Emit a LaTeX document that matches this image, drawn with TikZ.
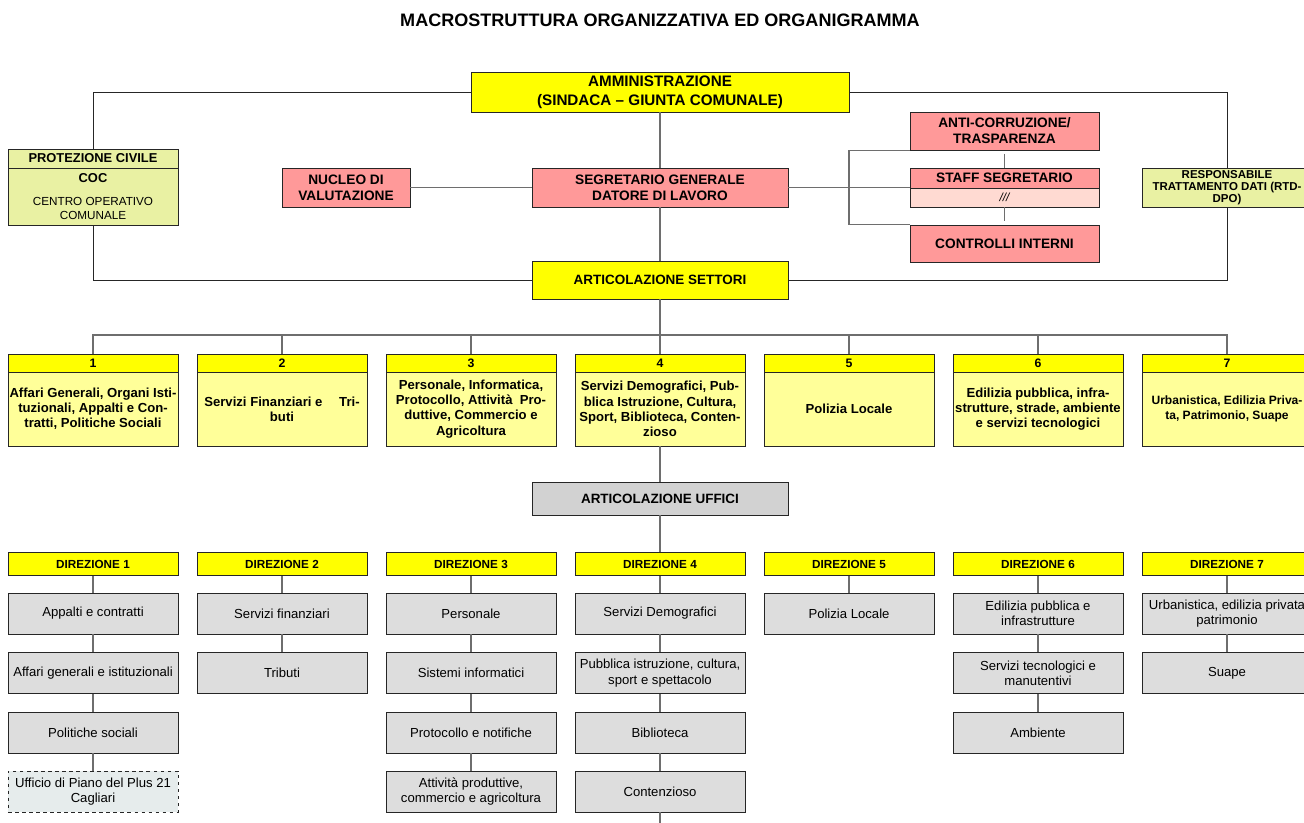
\documentclass[tikz,border=0pt]{standalone}
\usepackage{fontspec}
\setmainfont{Liberation Sans}
\usepackage{xcolor}

\definecolor{giallo}{HTML}{FFFF00}
\definecolor{giallochiaro}{HTML}{FFFF99}
\definecolor{verdino}{HTML}{E9F1A3}
\definecolor{rosa}{HTML}{FF9999}
\definecolor{rosachiaro}{HTML}{FFDAD2}
\definecolor{grigio}{HTML}{DDDDDD}
\definecolor{grigioscuro}{HTML}{D2D2D2}
\definecolor{grigioblu}{HTML}{E6ECEC}
\definecolor{linea}{HTML}{6E6E6E}

\begin{document}
\begin{tikzpicture}[
    x=0.03cm,
    y=-0.03cm,
    every node/.style={font=\fontsize{11}{13}\selectfont},
    box/.style={
        draw=black!85,
        line width=0.7pt,
        inner sep=0pt,
        align=center
    },
    titolo/.style={
        box,
        fill=giallo,
        font=\fontsize{11.5}{17}\selectfont\bfseries
    },
    rosso/.style={
        box,
        fill=rosa,
        font=\fontsize{11.7}{13.5}\selectfont\bfseries
    },
    civile/.style={
        box,
        fill=verdino,
        minimum width=5.1cm
    },
    numero/.style={
        box,
        fill=giallo,
        minimum width=5.1cm,
        minimum height=0.54cm,
        font=\fontsize{10.5}{12}\selectfont\bfseries
    },
    settore/.style={
        box,
        fill=giallochiaro,
        minimum width=5.1cm,
        minimum height=2.22cm,
        font=\fontsize{11.2}{13}\selectfont\bfseries
    },
    direzione/.style={
        box,
        fill=giallo,
        minimum width=5.1cm,
        minimum height=0.7cm,
        font=\fontsize{10}{12}\selectfont\bfseries
    },
    ufficio/.style={
        box,
        fill=grigio,
        minimum width=5.1cm,
        minimum height=1.23cm,
        font=\fontsize{11.2}{13}\selectfont
    },
    collega/.style={
        draw=linea,
        line width=1pt
    },
    cornice/.style={
        draw=black!85,
        line width=0.8pt
    }
]

\clip (0,0) rectangle (1304,823);
\fill[white] (0,0) rectangle (1304,823);

% ============================================================
% TITOLO
% ============================================================

\node[
    font=\fontsize{15.4}{18}\selectfont\bfseries
] (titolo) at (660,20)
{MACROSTRUTTURA ORGANIZZATIVA ED ORGANIGRAMMA};

% ============================================================
% VERTICE
% ============================================================

\node[
    titolo,
    minimum width=11.34cm,
    minimum height=1.2cm,
    font=\fontsize{13}{16}\selectfont\bfseries
] (amministrazione) at (660,92)
{AMMINISTRAZIONE\\(SINDACA -- GIUNTA COMUNALE)};

\node[
    rosso,
    minimum width=7.68cm,
    minimum height=1.17cm
] (segretario) at (660,187.5)
{SEGRETARIO GENERALE\\DATORE DI LAVORO};

\node[
    rosso,
    minimum width=3.84cm,
    minimum height=1.17cm
] (nucleo) at (346,187.5)
{NUCLEO DI\\VALUTAZIONE};

\node[
    titolo,
    minimum width=7.68cm,
    minimum height=1.14cm
] (settori) at (660,280)
{ARTICOLAZIONE SETTORI};

% Protezione civile
\node[
    civile,
    minimum height=0.57cm,
    font=\fontsize{11}{12}\selectfont\bfseries
] (protezione) at (93,158.5)
{PROTEZIONE CIVILE};

\node[
    civile,
    minimum height=1.71cm,
    font=\fontsize{10}{12}\selectfont
] (coc) at (93,196.5)
{\textbf{\fontsize{11}{12}\selectfont COC}\\[8pt]CENTRO OPERATIVO\\COMUNALE};

% Staff del segretario
\node[
    rosso,
    minimum width=5.67cm,
    minimum height=1.14cm
] (anticorruzione) at (1004.5,131)
{ANTI-CORRUZIONE/\\TRASPARENZA};

\node[
    rosso,
    minimum width=5.67cm,
    minimum height=0.6cm
] (staff) at (1004.5,178)
{STAFF SEGRETARIO};

\node[
    box,
    fill=rosachiaro,
    minimum width=5.67cm,
    minimum height=0.57cm,
    font=\fontsize{10}{12}\selectfont\itshape
] (staffvuoto) at (1004.5,197.5)
{///};

\node[
    rosso,
    minimum width=5.67cm,
    minimum height=1.11cm
] (controlli) at (1004.5,243.5)
{CONTROLLI INTERNI};

\coordinate (snodo) at (849,187.5);

% Responsabile dati
\node[
    civile,
    minimum height=1.17cm,
    font=\fontsize{9.8}{10}\selectfont\bfseries
] (rtd) at (1227,187.5)
{RESPONSABILE\\TRATTAMENTO DATI (RTD-\\DPO)};

% collegamenti del vertice
\draw[cornice] (amministrazione.west) -| (protezione.north);
\draw[cornice] (coc.south) |- (settori.west);
\draw[cornice] (amministrazione.east) -| (rtd.north);
\draw[cornice] (rtd.south) |- (settori.east);

\draw[collega] (amministrazione.south) -- (segretario.north);
\draw[collega] (segretario.south) -- (settori.north);
\draw[collega] (nucleo.east) -- (segretario.west);
\draw[collega] (segretario.east) -- (segretario.east -| staff.west);
\draw[collega] (anticorruzione.south west) -| (snodo) |- (controlli.north west);
\draw[collega, shorten <=3pt] (anticorruzione.south) -- (staff.north);
\draw[collega, shorten >=3pt] (staffvuoto.south) -- (controlli.north);

% ============================================================
% SETTORI
% ============================================================

\node[numero] (n1) at (93,363) {1};
\node[numero] (n2) at (282,363) {2};
\node[numero] (n3) at (471,363) {3};
\node[numero] (n4) at (660,363) {4};
\node[numero] (n5) at (849,363) {5};
\node[numero] (n6) at (1038,363) {6};
\node[numero] (n7) at (1227,363) {7};

\node[settore] (s1) at (93,409)
{Affari Generali, Organi Isti-\\tuzionali, Appalti e Con-\\tratti, Politiche Sociali};
\node[settore] (s2) at (282,409)
{Servizi Finanziari e\quad\ Tri-\\buti};
\node[settore] (s3) at (471,409)
{Personale, Informatica,\\Protocollo, Attività\ \ Pro-\\duttive, Commercio e\\Agricoltura};
\node[settore] (s4) at (660,409)
{Servizi Demografici, Pub-\\blica Istruzione, Cultura,\\Sport, Biblioteca, Conten-\\zioso};
\node[settore] (s5) at (849,409)
{Polizia Locale};
\node[settore] (s6) at (1038,409)
{Edilizia pubblica, infra-\\strutture, strade, ambiente\\e servizi tecnologici};
\node[settore, font=\fontsize{10.3}{13}\selectfont\bfseries] (s7) at (1227,409)
{Urbanistica, Edilizia Priva-\\ta, Patrimonio, Suape};

\coordinate (barra) at (660,335);

\draw[collega] (settori.south) -- (barra);
\draw[collega] (n1.north) |- (barra) -| (n7.north);
\draw[collega] (n2.north) -- (n2.north |- barra);
\draw[collega] (n3.north) -- (n3.north |- barra);
\draw[collega] (n4.north) -- (barra);
\draw[collega] (n5.north) -- (n5.north |- barra);
\draw[collega] (n6.north) -- (n6.north |- barra);

% ============================================================
% UFFICI
% ============================================================

\node[
    box,
    fill=grigioscuro,
    minimum width=7.68cm,
    minimum height=0.99cm,
    font=\fontsize{11.5}{13}\selectfont\bfseries
] (uffici) at (660,498.5)
{ARTICOLAZIONE UFFICI};

\node[direzione] (d1) at (93,564) {DIREZIONE 1};
\node[direzione] (d2) at (282,564) {DIREZIONE 2};
\node[direzione] (d3) at (471,564) {DIREZIONE 3};
\node[direzione] (d4) at (660,564) {DIREZIONE 4};
\node[direzione] (d5) at (849,564) {DIREZIONE 5};
\node[direzione] (d6) at (1038,564) {DIREZIONE 6};
\node[direzione] (d7) at (1227,564) {DIREZIONE 7};

% Direzione 1
\node[ufficio] (u1a) at (93,613.5) {Appalti e contratti};
\node[ufficio] (u1b) at (93,673) {Affari generali e istituzionali};
\node[ufficio] (u1c) at (93,732.5) {Politiche sociali};
\node[ufficio, dashed, fill=grigioblu] (u1d) at (93,791.5)
{Ufficio di Piano del Plus 21\\Cagliari};

% Direzione 2
\node[ufficio] (u2a) at (282,613.5) {Servizi finanziari};
\node[ufficio] (u2b) at (282,673) {Tributi};

% Direzione 3
\node[ufficio] (u3a) at (471,613.5) {Personale};
\node[ufficio] (u3b) at (471,673) {Sistemi informatici};
\node[ufficio] (u3c) at (471,732.5) {Protocollo e notifiche};
\node[ufficio] (u3d) at (471,791.5)
{Attività produttive,\\commercio e agricoltura};

% Direzione 4
\node[ufficio] (u4a) at (660,613.5) {Servizi Demografici};
\node[ufficio] (u4b) at (660,673)
{Pubblica istruzione, cultura,\\sport e spettacolo};
\node[ufficio] (u4c) at (660,732.5) {Biblioteca};
\node[ufficio] (u4d) at (660,791.5) {Contenzioso};
\coordinate (fondo) at (660,823);

% Direzione 5
\node[ufficio] (u5a) at (849,613.5) {Polizia Locale};

% Direzione 6
\node[ufficio] (u6a) at (1038,613.5)
{Edilizia pubblica e\\infrastrutture};
\node[ufficio] (u6b) at (1038,673)
{Servizi tecnologici e\\manutentivi};
\node[ufficio] (u6c) at (1038,732.5) {Ambiente};

% Direzione 7
\node[ufficio] (u7a) at (1227,613.5)
{Urbanistica, edilizia privata\\patrimonio};
\node[ufficio] (u7b) at (1227,673) {Suape};

% collegamenti degli uffici
\draw[collega] (s4.south) -- (uffici.north);
\draw[collega] (uffici.south) -- (d4.north);

\draw[collega] (d1) -- (u1a) -- (u1b) -- (u1c) -- (u1d);
\draw[collega] (d2) -- (u2a) -- (u2b);
\draw[collega] (d3) -- (u3a) -- (u3b) -- (u3c) -- (u3d);
\draw[collega] (d4) -- (u4a) -- (u4b) -- (u4c) -- (u4d) -- (fondo);
\draw[collega] (d5) -- (u5a);
\draw[collega] (d6) -- (u6a) -- (u6b) -- (u6c);
\draw[collega] (d7) -- (u7a) -- (u7b);

\end{tikzpicture}
\end{document}
